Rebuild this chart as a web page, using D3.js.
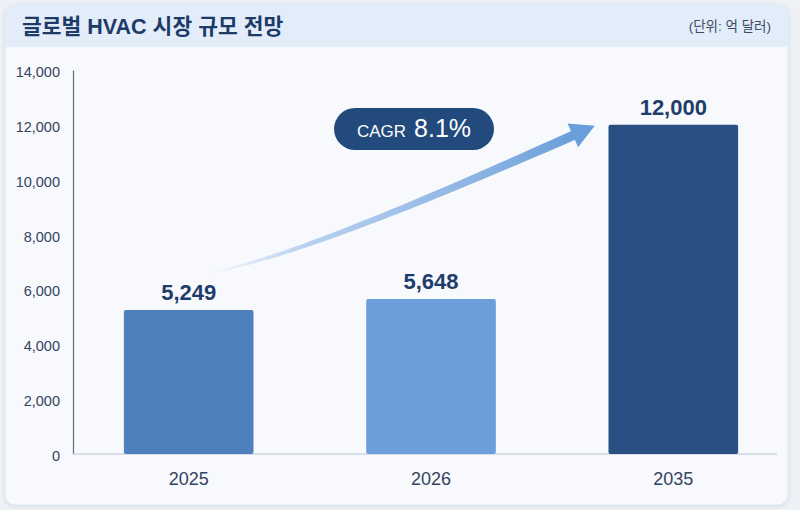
<!DOCTYPE html>
<html>
<head>
<meta charset="utf-8">
<title>글로벌 HVAC 시장 규모 전망</title>
<style>
  body { margin: 0; background: #eef2f7; }
  svg { display: block; font-family: "Liberation Sans", Arial, "Noto Sans CJK KR", sans-serif; }
  .tick text { fill: #34445f; font-size: 14px; }
</style>
</head>
<body>
<script src="https://cdn.jsdelivr.net/npm/d3@7"></script>
<script>

// chart data
var years = ["2025", "2026", "2035"];
var values = [5249, 5648, 12000];
var valueLabels = ["5,249", "5,648", "12,000"];
var barColors = ["#4f80bd", "#6c9fd9", "#2a4f82"];
var yTicks = [0, 2000, 4000, 6000, 8000, 10000, 12000, 14000];
var title = "글로벌 HVAC 시장 규모 전망";
var unitText = "(단위: 억 달러)";
var cagrText = "8.1%";

var W = 800, H = 510;
var margin = {top: 70, right: 11, bottom: 56, left: 73};

var svg = d3.select("body").append("svg")
    .attr("width", W)
    .attr("height", H);

var defs = svg.append("defs");
var shadow = defs.append("filter").attr("id", "shadow")
    .attr("x", "-5%").attr("y", "-5%").attr("width", "110%").attr("height", "110%");
shadow.append("feDropShadow").attr("dx", 0).attr("dy", 1).attr("stdDeviation", 2)
    .attr("flood-color", "#7a8ca8").attr("flood-opacity", 0.25);

// card + header band
svg.append("rect")
    .attr("x", 5).attr("y", 5).attr("width", 783).attr("height", 500)
    .attr("rx", 10).attr("fill", "#f7f9fc")
    .attr("stroke", "#e1e7ef").attr("filter", "url(#shadow)");

var clip = defs.append("clipPath").attr("id", "cardclip");
clip.append("rect").attr("x", 5).attr("y", 5).attr("width", 783).attr("height", 500).attr("rx", 10);

svg.append("rect")
    .attr("x", 5).attr("y", 5).attr("width", 783).attr("height", 42)
    .attr("fill", "#e3edf9").attr("clip-path", "url(#cardclip)");

svg.append("text")
    .attr("x", 22).attr("y", 34)
    .attr("fill", "#1e3a68")
    .style("font-size", "21.5px").style("font-weight", "bold")
    .text(title);

svg.append("text")
    .attr("x", 771).attr("y", 31)
    .attr("text-anchor", "end")
    .attr("fill", "#3a4a66")
    .style("font-size", "13.5px")
    .text(unitText);

// scales
var x = d3.scaleBand()
    .domain(years)
    .range([margin.left, 789])
    .paddingInner(0.465)
    .paddingOuter(0.21);

var y = d3.scaleLinear()
    .domain([0, 14000])
    .range([454, 70]);

// y axis
var yAxis = svg.append("g")
    .attr("transform", "translate(" + margin.left + ",0)")
    .call(d3.axisLeft(y).tickValues(yTicks).tickSize(0).tickPadding(13)
        .tickFormat(d3.format(",")));
yAxis.select(".domain").attr("stroke", "#5b6c88").attr("stroke-width", 1.2);
yAxis.selectAll(".tick text").attr("dy", "0.45em").style("font-size", "14.5px");

// x axis
var xAxis = svg.append("g")
    .attr("transform", "translate(0," + y(0) + ")")
    .call(d3.axisBottom(x).tickSize(0).tickPadding(18));
xAxis.select(".domain").remove();
xAxis.selectAll(".tick text")
    .style("font-size", "18px").attr("fill", "#2c3e63");
svg.append("line")
    .attr("x1", margin.left).attr("x2", 777)
    .attr("y1", y(0)).attr("y2", y(0))
    .attr("stroke", "#b9c3d1").attr("stroke-width", 1.2);

// bars
svg.selectAll(".bar")
    .data(values)
    .enter().append("rect")
    .attr("class", "bar")
    .attr("x", function(d, i) { return x(years[i]); })
    .attr("width", x.bandwidth())
    .attr("y", function(d) { return y(d); })
    .attr("height", function(d) { return y(0) - y(d); })
    .attr("rx", 2)
    .attr("fill", function(d, i) { return barColors[i]; });

// value labels
svg.selectAll(".val")
    .data(values)
    .enter().append("text")
    .attr("class", "val")
    .attr("x", function(d, i) { return x(years[i]) + x.bandwidth() / 2; })
    .attr("y", function(d) { return y(d) - 10; })
    .attr("text-anchor", "middle")
    .attr("fill", "#1f3d6b")
    .style("font-size", "22px").style("font-weight", "bold")
    .text(function(d, i) { return valueLabels[i]; });

// growth arrow (tapered curve from first to last bar)
var p0 = [x(years[0]) + x.bandwidth() / 2 + 22, y(values[0]) - 38];
var p2 = [x(years[2]) - 32, y(values[2]) + 9];
var c = [p0[0] + 85, p0[1] - 13];

function quad(t) {
  var u = 1 - t;
  return [u*u*p0[0] + 2*u*t*c[0] + t*t*p2[0], u*u*p0[1] + 2*u*t*c[1] + t*t*p2[1]];
}
function tang(t) {
  var dx = 2*(1-t)*(c[0]-p0[0]) + 2*t*(p2[0]-c[0]);
  var dy = 2*(1-t)*(c[1]-p0[1]) + 2*t*(p2[1]-c[1]);
  var l = Math.sqrt(dx*dx + dy*dy);
  return [dx/l, dy/l];
}
var left = [], right = [];
d3.range(0, 1.0001, 0.02).forEach(function(t) {
  var p = quad(t), d = tang(t), w = 0.6 + 4.2 * t;
  left.push([p[0] - d[1]*w, p[1] + d[0]*w]);
  right.push([p[0] + d[1]*w, p[1] - d[0]*w]);
});
var body = left.concat(right.reverse());

var grad = defs.append("linearGradient").attr("id", "arrowgrad")
    .attr("gradientUnits", "userSpaceOnUse")
    .attr("x1", p0[0]).attr("y1", p0[1]).attr("x2", p2[0]).attr("y2", p2[1]);
grad.append("stop").attr("offset", "0").attr("stop-color", "#a9c8ee").attr("stop-opacity", 0.05);
grad.append("stop").attr("offset", "0.25").attr("stop-color", "#9dbfea").attr("stop-opacity", 0.7);
grad.append("stop").attr("offset", "1").attr("stop-color", "#6a9ed9").attr("stop-opacity", 1);

svg.append("path")
    .attr("d", d3.line()(body) + "Z")
    .attr("fill", "url(#arrowgrad)");

// arrow head
var e = quad(1), dd = tang(1);
var tip = [e[0] + dd[0]*20, e[1] + dd[1]*20];
var b1 = [e[0] - dd[0]*4 - dd[1]*13, e[1] - dd[1]*4 + dd[0]*13];
var b2 = [e[0] - dd[0]*4 + dd[1]*13, e[1] - dd[1]*4 - dd[0]*13];
svg.append("path")
    .attr("d", d3.line()([tip, b1, b2]) + "Z")
    .attr("fill", "#6a9ed9");

// CAGR pill
var pill = svg.append("g").attr("transform", "translate(414,129)");
pill.append("rect")
    .attr("x", -80).attr("y", -21).attr("width", 160).attr("height", 42)
    .attr("rx", 21).attr("fill", "#234a7d");
var pt = pill.append("text")
    .attr("text-anchor", "middle").attr("y", 8)
    .attr("fill", "#ffffff");
pt.append("tspan").style("font-size", "17px").text("CAGR");
pt.append("tspan").attr("dx", 8).style("font-size", "25px").style("font-weight", "500").text(cagrText);

</script>
</body>
</html>
